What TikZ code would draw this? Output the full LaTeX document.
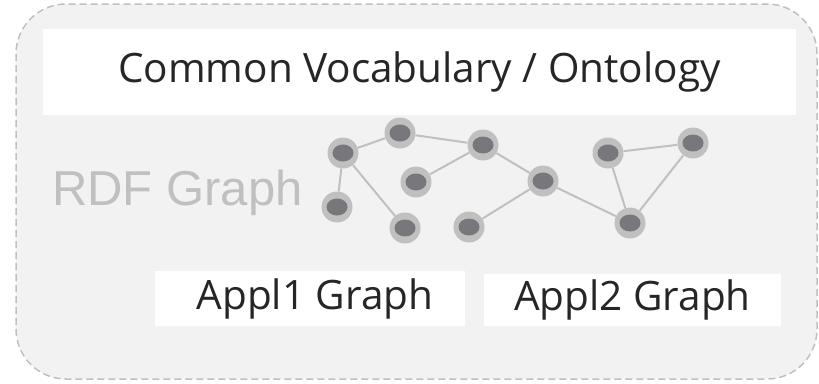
\documentclass[tikz,border=0pt]{standalone}
\usepackage{xcolor}
\usepackage{fontspec}
\setmainfont{Open Sans}
\newfontfamily\rdffont{Liberation Sans}
\usepackage{tikz}
\usetikzlibrary{shapes}
\usetikzlibrary{shapes.geometric}

\definecolor{panel}{HTML}{F2F2F2}
\definecolor{ring}{HTML}{C0C0C0}
\definecolor{core}{HTML}{77777C}
\definecolor{ink}{HTML}{262626}

\tikzstyle{res} = [circle, fill=ring, minimum size=31pt, inner sep=0pt, path picture={\fill [core] (path picture bounding box.center) ellipse (10.5pt and 8.5pt);}]
\tikzstyle{graphbox} = [rectangle, fill=white, inner sep=0pt, text=ink, font=\fontsize{40.5}{48}\selectfont]
\tikzstyle{link} = [-, draw=ring, line width=2pt]

\begin{document}
\begin{tikzpicture}[x=1pt, y=-1pt]
\useasboundingbox (0,0) rectangle (819,383);
% dashed panel behind everything
\draw [fill=panel, draw=ring, line width=1.5pt, dash pattern=on 7pt off 4pt, rounded corners=50pt] (16,4) rectangle (817,379);
\node [graphbox, minimum width=753pt, minimum height=86pt] (vocab) at (419.5,72) {Common Vocabulary / Ontology};
\node [graphbox, minimum width=310pt, minimum height=55pt] (appl1) at (310,298.5) {\hspace{10pt}Appl1 Graph};
\node [graphbox, minimum width=297pt, minimum height=52pt] (appl2) at (632.5,300) {Appl2 Graph};
\node [anchor=base west, inner sep=0pt, text=ring, font=\rdffont\fontsize{49}{56}\selectfont] (rdf) at (52,205) {RDF Graph};
% resources
\node [res] (r1) at (343,153) {};
\node [res] (r2) at (400,133) {};
\node [res] (r3) at (483,145) {};
\node [res] (r4) at (416,182) {};
\node [res] (r5) at (337,207) {};
\node [res] (r6) at (405,228) {};
\node [res] (r7) at (469,227) {};
\node [res] (r8) at (543,181) {};
\node [res] (r9) at (608,153) {};
\node [res] (r10) at (693,143) {};
\node [res] (r11) at (630,223) {};
% triples
\draw [link] (r1) -- (r2);
\draw [link] (r2) -- (r3);
\draw [link] (r1) -- (r5);
\draw [link] (r1) -- (r6);
\draw [link] (r4) -- (r3);
\draw [link] (r3) -- (r8);
\draw [link] (r8) -- (r7);
\draw [link] (r8) -- (r11);
\draw [link] (r9) -- (r11);
\draw [link] (r9) -- (r10);
\draw [link] (r10) -- (r11);
\end{tikzpicture}
\end{document}
